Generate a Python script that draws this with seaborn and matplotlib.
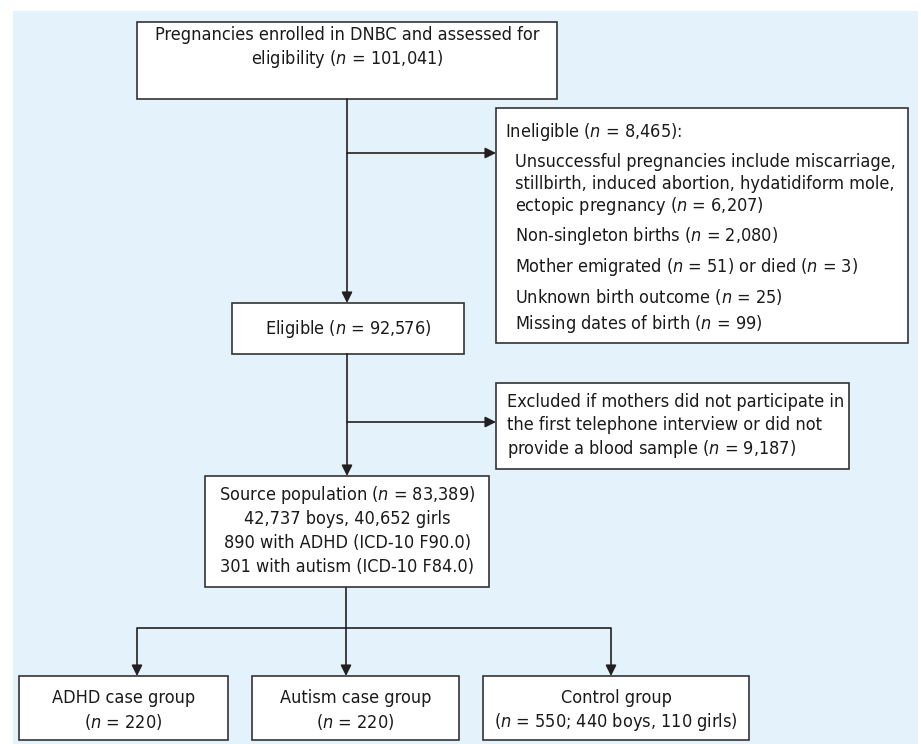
import matplotlib
matplotlib.use("Agg")
import matplotlib.pyplot as plt
import seaborn as sns
from matplotlib.patches import Rectangle

# ======================================
# 1. Configuración
# ======================================
sns.set_theme(style="white")
plt.rcParams["font.family"] = ["DejaVu Sans"]
plt.rcParams["font.stretch"] = "condensed"
plt.rcParams["mathtext.fontset"] = "custom"
plt.rcParams["mathtext.rm"] = "DejaVu Sans:stretch=condensed"
plt.rcParams["mathtext.it"] = "DejaVu Sans:italic:stretch=condensed"

N = r"$\mathit{n}$"

# ======================================
# 2. Datos (textos y conteos)
# ======================================
enrolled = 101041
ineligible = 8465
ineligible_items = ["unsuccessful", "non_singleton", "emigrated", "died", "unknown", "missing"]
ineligible_counts = [6207, 2080, 51, 3, 25, 99]
eligible = 92576
excluded = 9187
source = 83389
boys, girls = 42737, 40652
adhd_cases, autism_cases = 890, 301
group_names = ["ADHD case group", "Autism case group", "Control group"]
group_n = [220, 220, 550]
control_boys, control_girls = 440, 110

c = dict(zip(ineligible_items, ineligible_counts))

# ======================================
# 3. Layout (en píxeles)
# ======================================
fig = plt.figure(figsize=(9.21, 7.44), dpi=100)
ax = fig.add_axes([0, 0, 1, 1])
ax.set_xlim(0, 921)
ax.set_ylim(744, 0)
ax.axis("off")

LINE = "#231f20"
FS = 13

ax.add_patch(Rectangle((13, 11), 905, 740, facecolor="#e4f3fb", edgecolor="none", zorder=0))


def box(x0, y0, x1, y1):
    ax.add_patch(Rectangle((x0, y0), x1 - x0, y1 - y0, facecolor="white",
                           edgecolor="#333333", lw=1.2, zorder=2))


def line(xs, ys):
    ax.plot(xs, ys, color=LINE, lw=1.2, zorder=1, solid_capstyle="butt")


def arrow(x0, y0, x1, y1):
    ax.annotate("", xy=(x1, y1), xytext=(x0, y0),
                arrowprops=dict(arrowstyle="-|>", color=LINE, lw=1.2,
                                mutation_scale=16, shrinkA=0, shrinkB=0),
                zorder=3)


def txt(x, y, s, ha="center"):
    ax.text(x, y, s, ha=ha, va="center", fontsize=FS, color="#1a1a1a",
            fontstretch="condensed", zorder=4)


# caja superior
box(137, 22, 557, 99)
txt(347, 35, "Pregnancies enrolled in DNBC and assessed for")
txt(347, 59, f"eligibility ({N} = {enrolled:,})")

# no elegibles
box(496, 108, 908, 343)
txt(505, 132, f"Ineligible ({N} = {ineligible:,}):", ha="left")
txt(515, 162, "Unsuccessful pregnancies include miscarriage,", ha="left")
txt(515, 184, "stillbirth, induced abortion, hydatidiform mole,", ha="left")
txt(515, 206, f"ectopic pregnancy ({N} = {c['unsuccessful']:,})", ha="left")
txt(515, 236, f"Non-singleton births ({N} = {c['non_singleton']:,})", ha="left")
txt(515, 267, f"Mother emigrated ({N} = {c['emigrated']}) or died ({N} = {c['died']})", ha="left")
txt(515, 297, f"Unknown birth outcome ({N} = {c['unknown']})", ha="left")
txt(515, 324, f"Missing dates of birth ({N} = {c['missing']})", ha="left")

# elegibles
box(232, 303, 464, 354)
txt(348, 329, f"Eligible ({N} = {eligible:,})")

# excluidos
box(496, 383, 849, 469)
txt(507, 402, "Excluded if mothers did not participate in", ha="left")
txt(507, 425, "the first telephone interview or did not", ha="left")
txt(507, 449, f"provide a blood sample ({N} = {excluded:,})", ha="left")

# población fuente
box(205, 476, 489, 587)
txt(347, 495, f"Source population ({N} = {source:,})")
txt(347, 519, f"{boys:,} boys, {girls:,} girls")
txt(347, 543, f"{adhd_cases} with ADHD (ICD-10 F90.0)")
txt(347, 567, f"{autism_cases} with autism (ICD-10 F84.0)")

# grupos
group_boxes = [(19, 228), (252, 459), (483, 749)]
arrow_x = [137, 346, 611]
for (x0, x1), name, n in zip(group_boxes, group_names, group_n):
    box(x0, 676, x1, 740)
    cx = (x0 + x1) / 2
    txt(cx, 698, name)
    if name == "Control group":
        txt(cx, 722, f"({N} = {n}; {control_boys} boys, {control_girls} girls)")
    else:
        txt(cx, 722, f"({N} = {n})")

# conectores
arrow(347, 99, 347, 303)
arrow(347, 153, 496, 153)
arrow(347, 354, 347, 476)
arrow(347, 422, 496, 422)
line([346, 346], [587, 628])
line([arrow_x[0], arrow_x[-1]], [628, 628])
for x in arrow_x:
    arrow(x, 628, x, 676)

fig.savefig("out.png", dpi=100)
